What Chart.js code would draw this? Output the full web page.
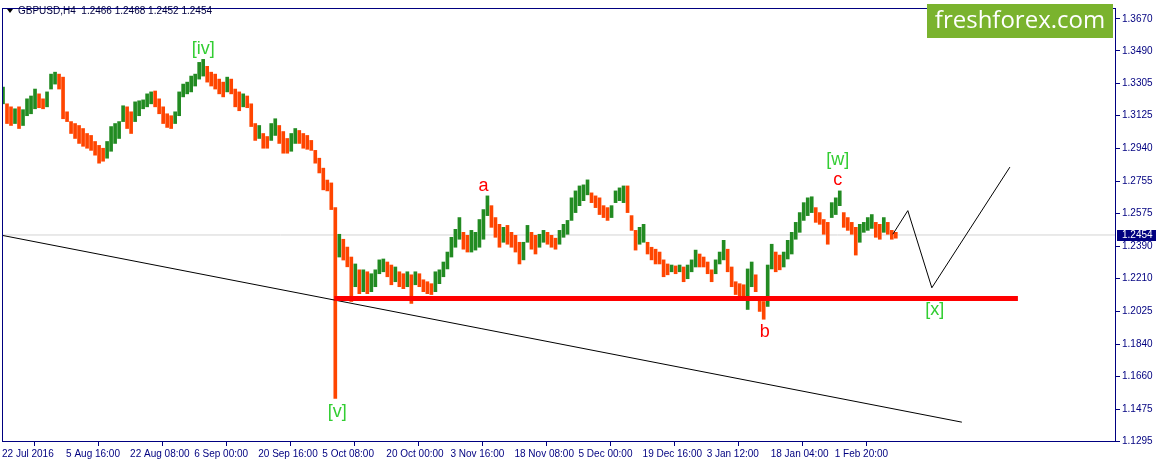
<!DOCTYPE html>
<html>
<head>
<meta charset="utf-8">
<title>GBPUSD H4</title>
<script src="https://cdn.jsdelivr.net/npm/chart.js@4.4.1/dist/chart.umd.min.js"></script>
<style>
  html, body { margin: 0; padding: 0; background: #ffffff; }
  #chart-wrap { width: 1156px; height: 467px; }
</style>
</head>
<body>
<div id="chart-wrap"><canvas id="price-chart" width="1156" height="467"></canvas></div>
<script>
var symbolTitle = "GBPUSD,H4  1.2466 1.2468 1.2452 1.2454";
var lastPrice = 1.2454;

// each entry = 4 H4 bars (16 hours)
var highs = [
  1.3286,1.3192,1.3175,1.3164,1.3175,1.3159,1.3220,1.3236,1.3275,1.3248,
  1.3220,1.3259,1.3359,1.3370,1.3359,1.3342,1.3147,1.3092,1.3081,1.3070,
  1.3053,1.3025,1.3014,1.2980,1.2958,1.2942,1.2980,1.3064,1.3081,1.3092,
  1.3181,1.3175,1.3147,1.3203,1.3209,1.3214,1.3248,1.3259,1.3264,1.3220,
  1.3175,1.3136,1.3125,1.3147,1.3259,
  1.3303,1.3314,1.3348,1.3359,1.3425,1.3442,1.3403,1.3370,1.3359,1.3331,
  1.3314,1.3342,1.3331,1.3275,1.3259,1.3248,1.3236,1.3192,1.3081,1.3070,
  1.3025,1.3008,1.3081,1.3108,1.3070,1.3036,1.2997,1.3025,1.3053,1.3042,
  1.3025,1.3014,1.2986,1.2930,1.2886,1.2830,1.2763,1.2747,
  1.2608,1.2458,1.2430,1.2386,1.2330,1.2291,1.2258,
  1.2258,1.2247,1.2236,1.2258,1.2314,1.2319,1.2302,1.2285,1.2274,1.2247,
  1.2236,1.2247,1.2230,1.2247,1.2236,1.2202,1.2191,1.2180,1.2247,1.2258,
  1.2302,1.2358,1.2441,1.2486,1.2552,1.2469,1.2452,1.2480,1.2469,1.2541,
  1.2597,1.2674,1.2619,1.2552,1.2514,1.2497,1.2508,1.2469,1.2452,1.2413,
  1.2413,1.2508,1.2469,1.2452,1.2458,
  1.2480,1.2469,1.2452,1.2436,1.2480,1.2514,1.2536,1.2663,1.2702,1.2730,
  1.2736,1.2764,1.2691,1.2674,1.2663,1.2619,1.2608,1.2619,1.2702,1.2719,
  1.2730,1.2730,1.2563,1.2480,1.2497,1.2514,1.2413,1.2385,1.2374,1.2358,
  1.2314,1.2291,1.2285,1.2280,1.2285,1.2274,1.2285,1.2314,1.2369,1.2347,
  1.2330,1.2302,1.2258,1.2314,1.2358,
  1.2424,1.2374,1.2274,1.2191,1.2180,1.2174,1.2263,1.2302,1.2230,1.2108,
  1.2080,1.2285,1.2402,1.2358,1.2341,1.2358,1.2424,1.2469,1.2525,1.2580,
  1.2636,1.2663,1.2669,1.2608,1.2580,1.2541,1.2525,1.2636,1.2663,1.2702,
  1.2580,1.2552,1.2525,1.2497,1.2514,1.2525,1.2552,1.2569,1.2525,1.2514,
  1.2552,1.2525,1.2480,1.2469
];
var lows = [
  1.3192,1.3081,1.3070,1.3081,1.3053,1.3070,1.3125,1.3136,1.3164,1.3170,
  1.3164,1.3175,1.3275,1.3303,1.3275,1.3108,1.3092,1.3025,1.2997,1.2969,
  1.2953,1.2942,1.2930,1.2903,1.2858,1.2869,1.2886,1.2925,1.2969,1.2997,
  1.3092,1.3053,1.3025,1.3092,1.3125,1.3164,1.3175,1.3192,1.3175,1.3136,
  1.3081,1.3059,1.3053,1.3081,1.3125,
  1.3231,1.3248,1.3259,1.3292,1.3331,1.3348,1.3314,1.3292,1.3275,1.3248,
  1.3231,1.3259,1.3248,1.3175,1.3153,1.3175,1.3170,1.3064,1.2986,1.2997,
  1.2942,1.2942,1.2986,1.3014,1.2969,1.2914,1.2914,1.2925,1.2969,1.2969,
  1.2942,1.2936,1.2930,1.2858,1.2803,1.2708,1.2702,1.2597,
  1.1534,1.2330,1.2313,1.2275,1.2080,1.2163,1.2124,
  1.2135,1.2124,1.2135,1.2163,1.2236,1.2247,1.2219,1.2174,1.2191,1.2163,
  1.2152,1.2163,1.2069,1.2174,1.2163,1.2135,1.2124,1.2119,1.2135,1.2180,
  1.2219,1.2263,1.2330,1.2385,1.2430,1.2374,1.2358,1.2358,1.2369,1.2385,
  1.2430,1.2563,1.2497,1.2441,1.2385,1.2413,1.2402,1.2385,1.2358,1.2291,
  1.2314,1.2413,1.2374,1.2347,1.2385,
  1.2413,1.2402,1.2385,1.2374,1.2402,1.2441,1.2458,1.2536,1.2580,1.2619,
  1.2647,1.2680,1.2636,1.2608,1.2569,1.2552,1.2536,1.2552,1.2636,1.2647,
  1.2636,1.2580,1.2480,1.2369,1.2402,1.2413,1.2347,1.2314,1.2291,1.2291,
  1.2219,1.2230,1.2247,1.2236,1.2247,1.2191,1.2208,1.2247,1.2274,1.2274,
  1.2274,1.2236,1.2191,1.2236,1.2291,
  1.2314,1.2247,1.2163,1.2119,1.2108,1.2097,1.2035,1.2163,1.2135,1.2024,
  1.1980,1.2052,1.2263,1.2247,1.2258,1.2274,1.2319,1.2347,1.2430,1.2469,
  1.2536,1.2563,1.2580,1.2525,1.2514,1.2458,1.2402,1.2552,1.2569,1.2619,
  1.2497,1.2480,1.2458,1.2341,1.2413,1.2469,1.2480,1.2491,1.2441,1.2430,
  1.2469,1.2458,1.2430,1.2436
];

var xTickBars = [0, 64, 128, 192, 256, 320, 384, 448, 512, 576, 640, 704, 768, 832];
var xTickLabels = [
  "22 Jul 2016", "5 Aug 16:00", "22 Aug 08:00", "6 Sep 00:00", "20 Sep 16:00",
  "5 Oct 08:00", "20 Oct 00:00", "3 Nov 16:00", "18 Nov 08:00", "5 Dec 00:00",
  "19 Dec 16:00", "3 Jan 12:00", "18 Jan 04:00", "1 Feb 20:00"
];
var yTickLabels = [
  "1.3670", "1.3490", "1.3305", "1.3125", "1.2940", "1.2755", "1.2575",
  "1.2390", "1.2210", "1.2025", "1.1840", "1.1660", "1.1475", "1.1295"
];

// analyst drawings (bar index, price)
var trendLine = [[0, 1.2452], [959, 1.1401]];
var supportLine = [[332, 1.2096], [1015, 1.2096]];
var forecastPath = [[890, 1.2458], [905, 1.2591], [929, 1.2157], [1007, 1.2836]];
var waveLabels = [
  { text: "[iv]", bar: 201, price: 1.3498, color: "#32cd32" },
  { text: "[v]", bar: 335, price: 1.1456, color: "#32cd32" },
  { text: "a", bar: 481, price: 1.2730, color: "#ff0000" },
  { text: "b", bar: 762, price: 1.1907, color: "#ff0000" },
  { text: "c", bar: 835, price: 1.2763, color: "#ff0000" },
  { text: "[w]", bar: 835, price: 1.2875, color: "#32cd32" },
  { text: "[x]", bar: 932, price: 1.2029, color: "#32cd32" }
];

var axisColor = "#000080";
var upColor = "#228b22";
var downColor = "#ff4500";

function toPoints(pairs) {
  return pairs.map(function (p) { return { x: p[0], y: p[1] }; });
}

function barData() {
  var pts = [];
  var colors = [];
  var prevMid = null;
  for (var i = 0; i < highs.length; i++) {
    var mid = (highs[i] + lows[i]) / 2;
    pts.push({ x: 1 + i * 4, y: [lows[i], highs[i]] });
    colors.push(prevMid === null || mid >= prevMid ? upColor : downColor);
    prevMid = mid;
  }
  return { pts: pts, colors: colors };
}

var overlayPlugin = {
  id: "overlay",
  afterDatasetsDraw: function (chart) {
    var ctx = chart.ctx;
    var xs = chart.scales.x, ys = chart.scales.y;
    ctx.save();
    ctx.font = "18px 'Liberation Sans', Arial, sans-serif";
    ctx.textAlign = "center";
    ctx.textBaseline = "middle";
    waveLabels.forEach(function (l) {
      ctx.fillStyle = l.color;
      ctx.fillText(l.text, xs.getPixelForValue(l.bar), ys.getPixelForValue(l.price));
    });
    ctx.restore();
  },
  afterDraw: function (chart) {
    var ctx = chart.ctx;
    var area = chart.chartArea;
    var ys = chart.scales.y;
    ctx.save();
    // frame
    ctx.strokeStyle = axisColor;
    ctx.lineWidth = 1;
    ctx.strokeRect(Math.round(area.left) + 0.5, Math.round(area.top) + 0.5,
      Math.round(area.right - area.left) - 1, Math.round(area.bottom - area.top));

    // header
    ctx.fillStyle = "#000000";
    ctx.beginPath();
    ctx.moveTo(7, 9); ctx.lineTo(13, 9); ctx.lineTo(10, 13); ctx.closePath();
    ctx.fill();
    ctx.fillStyle = "#000040";
    ctx.font = "10px 'Liberation Sans', Arial, sans-serif";
    ctx.textBaseline = "middle";
    ctx.textAlign = "left";
    ctx.fillText(symbolTitle, 18, 11);

    // current price tag
    var py = Math.round(ys.getPixelForValue(lastPrice));
    ctx.fillStyle = axisColor;
    ctx.fillRect(area.right + 1, py - 5, 40, 11);
    ctx.fillStyle = "#ffffff";
    ctx.fillText(lastPrice.toFixed(4), area.right + 6, py + 0.5);

    // logo
    ctx.fillStyle = "#7ab32e";
    ctx.fillRect(927, 4, 186, 34);
    ctx.fillStyle = "#ffffff";
    ctx.font = "24px 'Open Sans', 'Noto Sans', sans-serif";
    ctx.textAlign = "center";
    ctx.fillText("freshforex.com", 1020, 21);
    ctx.restore();
  }
};

function drawChart() {
  var bars = barData();
  new Chart(document.getElementById("price-chart"), {
    type: "bar",
    data: {
      datasets: [
        {
          type: "line",
          label: "bid",
          data: toPoints([[0, lastPrice], [1113, lastPrice]]),
          borderColor: "#d3d3d3",
          borderWidth: 1,
          pointRadius: 0,
          order: 5
        },
        {
          label: "GBPUSD",
          data: bars.pts,
          backgroundColor: bars.colors,
          borderWidth: 0,
          barThickness: 3,
          order: 4
        },
        {
          type: "line",
          label: "trend",
          data: toPoints(trendLine),
          borderColor: "#000000",
          borderWidth: 1,
          pointRadius: 0,
          order: 3
        },
        {
          type: "line",
          label: "support",
          data: toPoints(supportLine),
          borderColor: "#ff0000",
          borderWidth: 5,
          pointRadius: 0,
          order: 2
        },
        {
          type: "line",
          label: "forecast",
          data: toPoints(forecastPath),
          borderColor: "#000000",
          borderWidth: 1,
          pointRadius: 0,
          order: 1
        }
      ]
    },
    options: {
      responsive: false,
      animation: false,
      devicePixelRatio: 1,
      layout: { padding: { top: 3, left: 2, right: 0, bottom: 0 } },
      plugins: {
        legend: { display: false },
        tooltip: { enabled: false }
      },
      scales: {
        x: {
          type: "linear",
          min: 0,
          max: 1113,
          offset: false,
          border: { display: false },
          grid: { drawOnChartArea: false, drawTicks: true, tickLength: 5, color: axisColor },
          afterBuildTicks: function (axis) {
            axis.ticks = xTickBars.map(function (v) { return { value: v }; });
          },
          afterFit: function (axis) { axis.height = 26; },
          ticks: {
            autoSkip: false,
            maxRotation: 0,
            align: "start",
            padding: 2,
            color: axisColor,
            font: { family: "'Liberation Sans', Arial, sans-serif", size: 10 },
            callback: function (value, index) { return xTickLabels[index]; }
          }
        },
        y: {
          position: "right",
          min: 1.1295,
          max: 1.3731,
          border: { display: false },
          grid: { drawOnChartArea: false, drawTicks: true, tickLength: 4, color: axisColor },
          afterBuildTicks: function (axis) {
            axis.ticks = yTickLabels.map(function (s) { return { value: parseFloat(s) }; });
          },
          afterFit: function (axis) { axis.width = 40; },
          ticks: {
            autoSkip: false,
            padding: 2,
            color: axisColor,
            font: { family: "'Liberation Sans', Arial, sans-serif", size: 10 },
            callback: function (value, index) { return yTickLabels[index]; }
          }
        }
      }
    },
    plugins: [overlayPlugin]
  });
}

document.addEventListener("DOMContentLoaded", function () {
  drawChart();
});
</script>
</body>
</html>
